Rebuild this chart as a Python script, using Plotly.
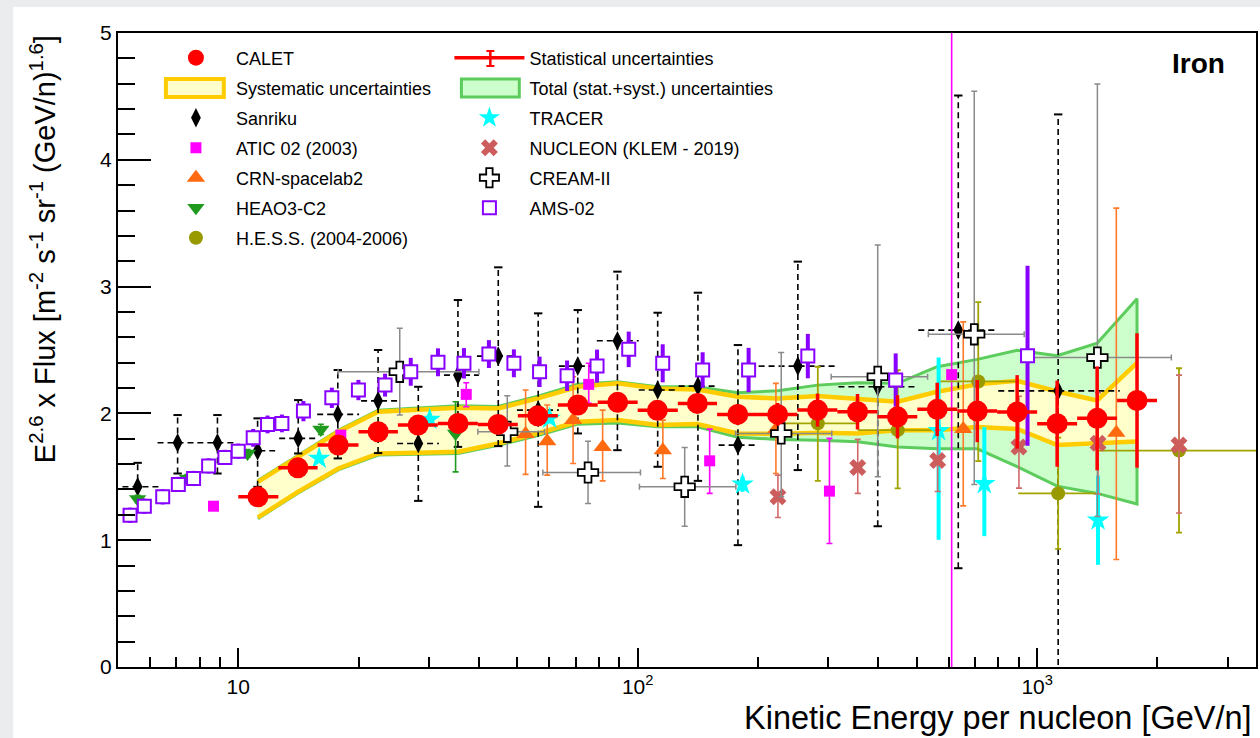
import plotly.graph_objects as go

# ---------------- CALET iron spectrum ----------------
calet_edges = [10.0, 12.6, 15.8, 20.0, 25.1, 31.6, 39.8, 50.1, 63.1, 79.4, 100, 126, 158,
               200, 251, 316, 398, 501, 631, 794, 1000, 1259, 1585, 1995]
calet_e = [11.2, 14.1, 17.8, 22.4, 28.2, 35.5, 44.7, 56.2, 70.8, 89.1, 112, 141, 178,
           224, 282, 355, 447, 562, 708, 891, 1122, 1413, 1778]
calet_flux = [1.342, 1.571, 1.750, 1.855, 1.908, 1.921, 1.913, 1.981, 2.066, 2.087, 2.024,
              2.079, 1.992, 1.992, 2.026, 2.013, 1.973, 2.032, 2.018, 2.012, 1.919, 1.961, 2.102]
calet_stat = [0.03, 0.03, 0.03, 0.03, 0.03, 0.04, 0.04, 0.04, 0.05, 0.05, 0.06, 0.07, 0.08,
              0.09, 0.13, 0.14, 0.17, 0.21, 0.245, 0.29, 0.34, 0.41, 0.53]
sys_hi = [1.46, 1.657, 1.855, 2.013, 2.026, 2.044, 2.039, 2.118, 2.21, 2.237, 2.197, 2.189,
          2.131, 2.118, 2.137, 2.118, 2.092, 2.171, 2.229, 2.257, 2.173, 2.102, 2.398]
sys_lo = [1.18, 1.381, 1.566, 1.684, 1.689, 1.697, 1.763, 1.842, 1.934, 1.947, 1.908, 1.916,
          1.842, 1.837, 1.847, 1.842, 1.868, 1.868, 1.892, 1.877, 1.75, 1.764, 1.778]
tot_hi = [1.47, 1.667, 1.866, 2.025, 2.04, 2.06, 2.055, 2.135, 2.23, 2.25, 2.21, 2.21,
          2.163, 2.178, 2.223, 2.242, 2.237, 2.368, 2.426, 2.497, 2.455, 2.553, 2.905]
tot_lo = [1.17, 1.371, 1.555, 1.672, 1.676, 1.683, 1.748, 1.826, 1.915, 1.925, 1.894, 1.894,
          1.811, 1.795, 1.789, 1.776, 1.736, 1.721, 1.721, 1.581, 1.426, 1.369, 1.285]

# ---------------- other measurements ----------------
sanriku_e = [5.60, 7.05, 8.87, 11.18, 14.13, 17.75, 22.39, 28.23, 35.48, 44.76, 56.35, 70.79,
             88.96, 112.2, 141.5, 178.2, 251.7, 398.9, 634.6, 1128.6]
sanriku_e_lo = [5.13, 6.28, 7.90, 10.06, 12.66, 15.76, 20.3, 24.98, 32.73, 39.58, 49.85, 63.47,
                78.99, 100.6, 126.6, 159.4, 200.7, 318, 504, 799]
sanriku_e_hi = [6.35, 7.90, 9.94, 12.37, 15.94, 20.07, 25.27, 31.8, 40.04, 49.55, 63.47, 80.7,
                100.6, 126.6, 159.4, 200.7, 318, 504, 799, 1610]
sanriku_flux = [1.421, 1.768, 1.768, 1.705, 1.803, 1.992, 2.099, 1.763, 2.302, 2.452, 2.026,
                2.373, 2.573, 2.184, 2.215, 1.750, 2.373, 2.210, 2.657, 2.178]
sanriku_top = [1.610, 1.987, 1.987, 1.961, 2.105, 2.342, 2.500, 2.210, 2.894, 3.152, 2.789,
               2.815, 3.118, 2.794, 2.952, 2.539, 3.197, 2.294, 4.507, 4.358]
sanriku_bottom = [1.237, 1.526, 1.526, 1.421, 1.684, 1.645, 1.687, 1.310, 1.736, 1.742, 1.263,
                  1.842, 1.710, 1.579, 1.468, 0.961, 1.553, 1.110, 0.779, -0.3]

atic_e = [8.67, 18.06, 37.22, 75.4, 151.4, 302, 610.8]
atic_flux = [1.268, 1.829, 2.150, 2.229, 1.626, 1.387, 2.306]
atic_up = [0.02, 0.03, 0.092, 0.166, 0.25, 0.416, 3.0]
atic_dn = [0.02, 0.03, 0.098, 0.150, 0.257, 0.413, 2.7]

crn_e = [52.4, 59.36, 68.9, 81.7, 115.6, 221.8, 653, 1578]
crn_flux = [1.837, 1.781, 1.947, 1.736, 1.710, 1.873, 1.877, 1.848]
crn_up = [0.347, 0.285, 0.342, 0.290, 0.237, 0.364, 0.845, 1.771]
crn_dn = [0.318, 0.268, 0.342, 0.268, 0.223, 0.347, 0.606, 1.000]

heao_e = [5.60, 7.46, 10.55, 16.1, 35.0]
heao_flux = [1.325, 1.487, 1.684, 1.874, 1.842]
heao_up = [0.03, 0.03, 0.03, 0.04, 0.25]
heao_dn = [0.03, 0.03, 0.03, 0.04, 0.303]

hess_e = [282.4, 447.6, 712, 1128.6, 2265]
hess_e_lo = [234, 355.5, 566, 896.6, 1420]
hess_e_hi = [355.5, 576.6, 896.6, 1420, 3600]
hess_flux = [1.921, 1.868, 2.252, 1.369, 1.707]
hess_up = [0.447, 0.474, 0.626, 0.44, 0.649]
hess_dn = [0.453, 0.460, 0.628, 0.437, 0.648]

tracer_e = [15.94, 30.15, 60.18, 183, 566.6, 737.4, 1420]
tracer_flux = [1.645, 1.953, 1.961, 1.442, 1.863, 1.445, 1.158]
tracer_up = [0.03, 0.04, 0.04, 0.06, 0.577, 0.447, 0.352]
tracer_dn = [0.03, 0.04, 0.04, 0.06, 0.860, 0.413, 0.352]

nucleon_e = [224.4, 355.5, 563.5, 900.3, 1420, 2265]
nucleon_flux = [1.342, 1.574, 1.629, 1.735, 1.764, 1.750]
nucleon_up = [0.171, 0.221, 0.239, 0.40, 0.40, 0.552]
nucleon_dn = [0.163, 0.205, 0.245, 0.324, 0.40, 0.536]

cream_e = [25.37, 47.15, 75.1, 131.1, 228.7, 398.9, 695.8, 1415]
cream_e_lo = [17.78, 39.8, 57.88, 101, 175.8, 305, 534, 925]
cream_e_hi = [40.04, 58.46, 101.6, 176.1, 306.1, 531.8, 928, 2167]
cream_flux = [2.328, 1.855, 1.534, 1.421, 1.842, 2.289, 2.624, 2.440]
cream_up = [0.343, 0.284, 0.247, 0.311, 0.639, 1.039, 1.917, 2.157]
cream_dn = [0.341, 0.269, 0.244, 0.311, 0.500, 0.789, 1.184, 1.254]

ams_e = [5.36, 5.82, 6.47, 7.08, 7.73, 8.43, 9.26, 10.0, 10.9, 11.84, 12.86, 14.56, 17.15,
         19.99, 23.31, 27.03, 31.62, 36.73, 42.41, 48.98, 56.80, 66.56, 79.1, 94.95, 115.5,
         145.4, 189.5, 266.6, 442.4, 945.9]
ams_flux = [1.197, 1.268, 1.342, 1.440, 1.487, 1.586, 1.653, 1.702, 1.807, 1.913, 1.921,
            2.018, 2.123, 2.184, 2.223, 2.328, 2.403, 2.395, 2.468, 2.395, 2.328, 2.297,
            2.373, 2.505, 2.395, 2.342, 2.342, 2.452, 2.263, 2.455]
ams_err = [0.06, 0.06, 0.06, 0.06, 0.06, 0.06, 0.06, 0.06, 0.07, 0.07, 0.07, 0.08, 0.08,
           0.08, 0.09, 0.11, 0.11, 0.12, 0.11, 0.11, 0.12, 0.12, 0.13, 0.14, 0.15, 0.14,
           0.175, 0.175, 0.21, 0.71]

# axis ticks
x_major = [10, 100, 1000]
x_major_text = ["10", "10<sup>2</sup>", "10<sup>3</sup>"]
x_minor = [6, 7, 8, 9, 20, 30, 40, 50, 60, 70, 80, 90, 200, 300, 400, 500, 600, 700, 800,
           900, 2000, 3000]

FONT = "Liberation Sans, Arial, sans-serif"
SYS_FILL, SYS_LINE = "#ffffcc", "#ffcc00"
TOT_FILL, TOT_LINE = "#ccffcc", "#5ccc5c"
fig = go.Figure()

# total (stat.+syst.) band
fig.add_trace(go.Scatter(
    x=calet_e + calet_e[::-1], y=tot_hi + tot_lo[::-1], fill="toself",
    fillcolor=TOT_FILL, line=dict(color=TOT_LINE, width=3),
    mode="lines", showlegend=False, hoverinfo="skip"))
# systematic band: fill, then its two edges
fig.add_trace(go.Scatter(
    x=calet_e + calet_e[::-1], y=sys_hi + sys_lo[::-1], fill="toself",
    fillcolor=SYS_FILL, line=dict(color=SYS_LINE, width=0),
    mode="lines", showlegend=False, hoverinfo="skip"))
for edge in (sys_lo, sys_hi):
    fig.add_trace(go.Scatter(x=calet_e, y=edge, mode="lines", hoverinfo="skip",
                             line=dict(color=SYS_LINE, width=4.5), showlegend=False))

# legend entries for the bands (their boxes are drawn as shapes)
fig.add_trace(go.Scatter(x=[None], y=[None], mode="lines", name="Systematic uncertainties",
                         line=dict(width=0, color="rgba(0,0,0,0)"),
                         legend="legend", legendgroup="sys", legendrank=2))
fig.add_trace(go.Scatter(x=[None], y=[None], mode="lines",
                         name="Total (stat.+syst.) uncertainties",
                         line=dict(width=0, color="rgba(0,0,0,0)"),
                         legend="legend2", legendgroup="tot", legendrank=2))

# Sanriku: dashed error bars with small end caps
sx, sy, cx, cy = [], [], [], []
for e, f, lo, hi, el, eh in zip(sanriku_e, sanriku_flux, sanriku_bottom, sanriku_top,
                                sanriku_e_lo, sanriku_e_hi):
    sx += [e, e, None, el, eh, None]
    sy += [lo, hi, None, f, f, None]
    cx += [e, e]
    cy += [lo, hi]
fig.add_trace(go.Scatter(x=sx, y=sy, mode="lines",
                         line=dict(color="black", width=1.6, dash="6px,4px"),
                         showlegend=False, hoverinfo="skip"))
fig.add_trace(go.Scatter(x=cx, y=cy, mode="markers", showlegend=False, hoverinfo="skip",
                         marker=dict(symbol="line-ew-open", size=6, color="black",
                                     line=dict(color="black", width=2))))
fig.add_trace(go.Scatter(x=sanriku_e, y=sanriku_flux, mode="markers", name="Sanriku",
                         legendgroup="san", legendrank=3,
                         marker=dict(symbol="diamond-tall", size=14, color="black")))

# ATIC 02
fig.add_trace(go.Scatter(x=atic_e, y=atic_flux, mode="markers", name="ATIC 02 (2003)",
                         legendgroup="atic", legendrank=4,
                         error_y=dict(type="data", symmetric=False, array=atic_up,
                                      arrayminus=atic_dn, color="#ff00ff", thickness=1.6, width=3),
                         marker=dict(symbol="square", size=11, color="#ff00ff")))
# CRN-spacelab2
fig.add_trace(go.Scatter(x=crn_e, y=crn_flux, mode="markers", name="CRN-spacelab2",
                         legendgroup="crn", legendrank=5,
                         error_y=dict(type="data", symmetric=False, array=crn_up,
                                      arrayminus=crn_dn, color="#ff7a2a", thickness=1.6, width=3),
                         marker=dict(symbol="triangle-up", size=16, color="#ff6a10")))
# HEAO3-C2
fig.add_trace(go.Scatter(x=heao_e, y=heao_flux, mode="markers", name="HEAO3-C2",
                         legendgroup="heao", legendrank=6,
                         error_y=dict(type="data", symmetric=False, array=heao_up,
                                      arrayminus=heao_dn, color="#1f9a1f", thickness=1.6, width=3),
                         marker=dict(symbol="triangle-down", size=15, color="#1f9a1f")))
# H.E.S.S.
fig.add_trace(go.Scatter(x=hess_e, y=hess_flux, mode="markers", name="H.E.S.S. (2004-2006)",
                         legendgroup="hess", legendrank=7,
                         error_y=dict(type="data", symmetric=False, array=hess_up,
                                      arrayminus=hess_dn, color="#a3a300", thickness=1.8, width=3),
                         error_x=dict(type="data", symmetric=False,
                                      array=[h - e for h, e in zip(hess_e_hi, hess_e)],
                                      arrayminus=[e - l for l, e in zip(hess_e_lo, hess_e)],
                                      color="#a3a300", thickness=1.8, width=0),
                         marker=dict(symbol="circle", size=14, color="#999900")))
# TRACER
fig.add_trace(go.Scatter(x=tracer_e, y=tracer_flux, mode="markers", name="TRACER",
                         legend="legend2", legendgroup="tracer", legendrank=3,
                         error_y=dict(type="data", symmetric=False, array=tracer_up,
                                      arrayminus=tracer_dn, color="#00ffff", thickness=4, width=0),
                         marker=dict(symbol="star", size=17, color="#00ffff")))
# NUCLEON
fig.add_trace(go.Scatter(x=nucleon_e, y=nucleon_flux, mode="markers",
                         name="NUCLEON (KLEM - 2019)", legend="legend2",
                         legendgroup="nuc", legendrank=4,
                         error_y=dict(type="data", symmetric=False, array=nucleon_up,
                                      arrayminus=nucleon_dn, color="#d06a6a", thickness=1.6, width=3),
                         marker=dict(symbol="x", size=15, color="#cd5c5c",
                                     line=dict(width=0))))
# CREAM-II
fig.add_trace(go.Scatter(x=cream_e, y=cream_flux, mode="markers", name="CREAM-II",
                         legend="legend2", legendgroup="cream", legendrank=5,
                         error_y=dict(type="data", symmetric=False, array=cream_up,
                                      arrayminus=cream_dn, color="#8a8a8a", thickness=1.5, width=3),
                         error_x=dict(type="data", symmetric=False,
                                      array=[h - e for h, e in zip(cream_e_hi, cream_e)],
                                      arrayminus=[e - l for l, e in zip(cream_e_lo, cream_e)],
                                      color="#8a8a8a", thickness=1.5, width=3),
                         marker=dict(symbol="cross", size=17, color="white",
                                     line=dict(color="black", width=1.8))))
# AMS-02
fig.add_trace(go.Scatter(x=ams_e, y=ams_flux, mode="markers", name="AMS-02",
                         legend="legend2", legendgroup="ams", legendrank=6,
                         error_y=dict(type="data", array=ams_err, color="#8800ff",
                                      thickness=4, width=0),
                         marker=dict(symbol="square", size=13, color="white",
                                     line=dict(color="#8800ff", width=2))))

# CALET statistical error bars (bin width horizontally)
ex, ey = [], []
for i, (e, f, s) in enumerate(zip(calet_e, calet_flux, calet_stat)):
    ex += [calet_edges[i], calet_edges[i + 1], None, e, e, None]
    ey += [f, f, None, f - s, f + s, None]
fig.add_trace(go.Scatter(x=ex, y=ey, mode="lines", line=dict(color="#ff0000", width=3.5),
                         name="Statistical uncertainties", legend="legend2",
                         legendgroup="stat", legendrank=1, hoverinfo="skip"))
fig.add_trace(go.Scatter(x=calet_e, y=calet_flux, mode="markers", name="CALET",
                         legendgroup="calet", legendrank=1,
                         marker=dict(symbol="circle", size=21, color="#ff0000")))

L, R, T, B = 118, 2, 33, 71
PW, PH = 1260 - L - R, 738 - T - B


def px(x):
    return (x - L) / PW


def py(y):
    return (738 - B - y) / PH


def legend_box(x0, x1, y0, y1, fill, line, width):
    return dict(type="rect", xref="paper", yref="paper", x0=px(x0), x1=px(x1),
                y0=py(y1), y1=py(y0), fillcolor=fill, line=dict(color=line, width=width),
                layer="above")


legend_style = dict(font=dict(family=FONT, size=18, color="black"), bgcolor="rgba(0,0,0,0)",
                    itemwidth=70, traceorder="grouped", tracegroupgap=3.6,
                    xanchor="left", yanchor="top", itemclick=False)
fig.update_layout(
    width=1260, height=738,
    margin=dict(l=L, r=R, t=T, b=B),
    paper_bgcolor="#eaecee", plot_bgcolor="white",
    font=dict(family=FONT, color="black"),
    legend=dict(x=px(156), y=py(39.5), **legend_style),
    legend2=dict(x=px(450), y=py(39.5), **legend_style),
    xaxis=dict(type="log", range=[0.69897, 3.5478], showline=True, linecolor="black",
               linewidth=2, mirror=True, ticks="inside", ticklen=19, tickwidth=1.5,
               tickcolor="black", tickmode="array", tickvals=x_major, ticktext=x_major_text,
               tickfont=dict(size=21), showgrid=False, zeroline=False,
               minor=dict(ticks="inside", ticklen=10, tickwidth=1.5, tickcolor="black",
                          tickmode="array", tickvals=x_minor, showgrid=False)),
    yaxis=dict(range=[0, 5], showline=True, linecolor="black", linewidth=2, mirror=True,
               ticks="inside", ticklen=33, tickwidth=1.5, tickcolor="black", dtick=1,
               tickfont=dict(size=21), showgrid=False, zeroline=False,
               minor=dict(ticks="inside", ticklen=17, tickwidth=1.5, tickcolor="black",
                          dtick=0.2, showgrid=False)),
    shapes=[
        dict(type="rect", xref="paper", yref="paper", x0=px(13), x1=px(1262),
             y0=py(740), y1=py(7), fillcolor="white", line=dict(width=0), layer="below"),
        legend_box(166, 224, 79, 97, SYS_FILL, SYS_LINE, 4),
        legend_box(462, 520, 79, 97, TOT_FILL, TOT_LINE, 3),
        dict(type="line", xref="paper", yref="paper", x0=px(491), x1=px(491),
             y0=py(51), y1=py(66), line=dict(color="#ff0000", width=2.5), layer="above"),
        dict(type="line", xref="paper", yref="paper", x0=px(487), x1=px(495),
             y0=py(51), y1=py(51), line=dict(color="#ff0000", width=2), layer="above"),
        dict(type="line", xref="paper", yref="paper", x0=px(487), x1=px(495),
             y0=py(66), y1=py(66), line=dict(color="#ff0000", width=2), layer="above"),
    ],
    annotations=[
        dict(text="E<sup>2.6</sup> x Flux [m<sup>-2</sup> s<sup>-1</sup> sr<sup>-1</sup> (GeV/n)<sup>1.6</sup>]",
             xref="paper", yref="paper", x=px(43), y=1.0, xanchor="center", yanchor="top",
             textangle=-90, showarrow=False, font=dict(size=29)),
        dict(text="Kinetic Energy per nucleon [GeV/n]", xref="paper", yref="paper",
             x=px(1256), y=py(718), xanchor="right", yanchor="middle", showarrow=False,
             font=dict(size=32.5)),
        dict(text="<b>Iron</b>", xref="paper", yref="paper", x=px(1229), y=py(63),
             xanchor="right", yanchor="middle", showarrow=False, font=dict(size=28)),
    ],
)

fig.write_html("out.html")
